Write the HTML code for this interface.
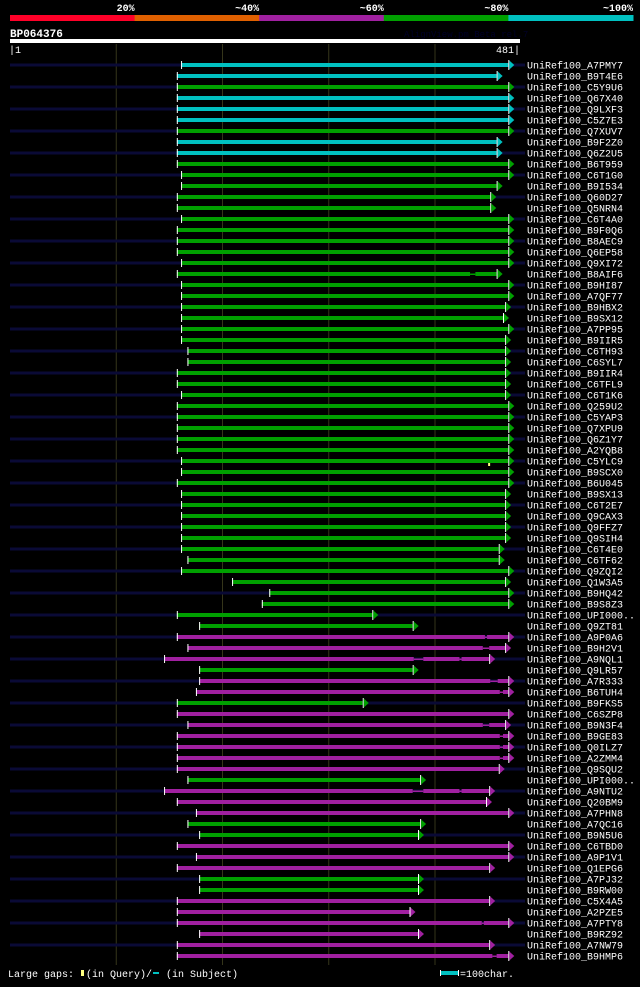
<!DOCTYPE html>
<html><head><meta charset="utf-8">
<style>
html,body{margin:0;padding:0;background:#000;}
body{width:640px;height:982px;overflow:hidden;}
svg text{font-family:"Liberation Mono",monospace;}
</style></head>
<body>
<svg id="chart" width="640" height="982" viewBox="0 0 640 982" xmlns="http://www.w3.org/2000/svg">
  <rect x="0" y="0" width="640" height="982" fill="#000"/>
  <g id="scale-bar"></g>
  <text x="10" y="37" fill="#fff" font-size="11" font-weight="bold">BP064376</text>
  <text x="404" y="37" fill="#000028" font-size="9">AlignView.pm Beta rel.7</text>
  <rect x="10" y="39" width="510" height="4" fill="#fff"/>
  <text x="9" y="53" fill="#fff" font-size="10">|1</text>
  <text x="520" y="53" fill="#fff" font-size="10" text-anchor="end">481|</text>
  <g id="grid"></g>
  <g id="rows"></g>
  <g>
    <text x="8" y="977" fill="#fff" font-size="10">Large gaps:</text>
    <rect x="81" y="970" width="3" height="6" fill="#ffff80"/>
    <text x="86" y="977" fill="#fff" font-size="10">(in Query)/</text>
    <rect x="153" y="972" width="6" height="2" fill="#00c0c0"/>
    <text x="166" y="977" fill="#fff" font-size="10">(in Subject)</text>
    <rect x="440" y="971" width="18" height="4" fill="#00c0c0"/>
    <rect x="440" y="970" width="1" height="6" fill="#fff"/>
    <rect x="458" y="970" width="1" height="6" fill="#fff"/>
    <text x="460" y="977" fill="#fff" font-size="10">=100char.</text>
  </g>
</svg>
<script>
const scaleLabels = ["20%","~40%","~60%","~80%","~100%"];
const scaleColors = ["#ff0028","#e06000","#a020a0","#00a000","#00c0c0"];
const queryLength = 481;
const gridTicks = [100,200,300,400];
const names = ["A7PMY7","B9T4E6","C5Y9U6","Q67X40","Q9LXF3","C5Z7E3","Q7XUV7","B9F2Z0","Q6Z2U5","B6T959","C6T1G0","B9I534","Q60D27","Q5NRN4","C6T4A0","B9F0Q6","B8AEC9","Q6EP58","Q9XI72","B8AIF6","B9HI87","A7QF77","B9HBX2","B9SX12","A7PP95","B9IIR5","C6TH93","C6SYL7","B9IIR4","C6TFL9","C6T1K6","Q259U2","C5YAP3","Q7XPU9","Q6Z1Y7","A2YQB8","C5YLC9","B9SCX0","B6U045","B9SX13","C6T2E7","Q9CAX3","Q9FFZ7","Q9SIH4","C6T4E0","C6TF62","Q9ZQI2","Q1W3A5","B9HQ42","B9S8Z3","UPI000..","Q9ZT81","A9P0A6","B9H2V1","A9NQL1","Q9LR57","A7R333","B6TUH4","B9FKS5","C6SZP8","B9N3F4","B9GE83","Q0ILZ7","A2ZMM4","Q9SQU2","UPI000..","A9NTU2","Q20BM9","A7PHN8","A7QC16","B9N5U6","C6TBD0","A9P1V1","Q1EPG6","A7PJ32","B9RW00","C5X4A5","A2PZE5","A7PTY8","B9RZ92","A7NW79","B9HMP6"];
const identityClass = ["c","c","g","c","c","c","g","c","c","g","g","g","g","g","g","g","g","g","g","g","g","g","g","g","g","g","g","g","g","g","g","g","g","g","g","g","g","g","g","g","g","g","g","g","g","g","g","g","g","g","g","g","m","m","m","g","m","m","g","m","m","m","m","m","m","g","m","m","m","g","g","m","m","m","g","g","m","m","m","m","m","m"];
const starts = [162,158,158,158,158,158,158,158,158,158,162,162,158,158,162,158,158,158,162,158,162,162,162,162,162,162,168,168,158,158,162,158,158,158,158,158,162,162,158,162,162,162,162,162,162,168,162,210,245,238,158,179,158,168,146,179,179,176,158,158,168,158,158,158,158,168,146,158,176,168,179,158,176,158,179,179,158,158,158,179,158,158];
const ends = [470,459,470,470,470,470,470,459,459,470,470,459,453,453,470,470,470,470,470,459,470,470,467,465,470,467,467,467,467,467,467,470,470,470,470,470,470,470,470,467,467,467,467,467,461,461,470,467,470,470,342,380,470,467,452,380,470,470,333,470,467,470,470,470,461,387,452,449,470,387,385,470,470,452,385,385,452,377,470,385,452,470];
const gapStarts = {19:[434],52:[448],53:[446],54:[381,424],56:[453],57:[462],60:[446],61:[462],62:[462],63:[462],66:[380,424],78:[445],81:[455]};
const gapEnds = {19:[439],52:[450],53:[452],54:[390,426],56:[460],57:[465],60:[452],61:[465],62:[465],63:[465],66:[390,426],78:[447],81:[459]};
const queryGapRows = [36];
const queryGapPos = [451];

const NS="http://www.w3.org/2000/svg";
const X0=10, X1=520;
function xScale(p){return X0+(p-1)*(X1-X0)/(queryLength-1);}
function yRow(i){return 65+i*11;}
const colorMap={c:"#00c0c0",g:"#00a000",m:"#a020a0"};
function mk(tag,attrs,parent){const e=document.createElementNS(NS,tag);for(const k in attrs)e.setAttribute(k,attrs[k]);parent.appendChild(e);return e;}

const sb=document.getElementById('scale-bar');
const segW=(633-10)/scaleLabels.length;
scaleLabels.forEach((l,i)=>{
  const r=mk('rect',{x:10+i*segW,y:15,width:segW+0.5,height:6,fill:scaleColors[i]},sb);
  
  
  const t=mk('text',{x:10+(i+1)*segW,y:11,fill:'#fff','font-size':10,'font-weight':'bold','text-anchor':'end'},sb);
  t.textContent=l;
  
  
});

const grid=document.getElementById('grid');
gridTicks.forEach(v=>{
  const g=mk('line',{x1:xScale(v+1),x2:xScale(v+1),y1:44,y2:965,stroke:'#35351a','stroke-width':1},grid);
  
  
});

const rows=document.getElementById('rows');
names.forEach((n,i)=>{
  const y=yRow(i);
  const g=mk('g',{},rows);
  
  
  if(i%2===0){mk('rect',{x:10,y:y-1.5,width:515,height:3,fill:'#0a0a36'},g);}
  const col=colorMap[identityClass[i]];
  const xs=xScale(starts[i]), xe=xScale(ends[i]);
  const gs=gapStarts[i]||[], ge=gapEnds[i]||[];
  let cur=xs;
  gs.forEach((s,k)=>{
    const a=xScale(s), b=xScale(ge[k]);
    mk('rect',{x:cur,y:y-2,width:a-cur,height:4,fill:col},g);
    mk('rect',{x:a,y:y-0.5,width:b-a,height:1.5,fill:col},g);
    cur=b;
  });
  const bar=mk('rect',{x:cur,y:y-2,width:xe-cur,height:4,fill:col},g);
  
  
  mk('rect',{x:xs,y:y-4,width:1,height:8,fill:'#fff'},g);
  mk('rect',{x:xe,y:y-5,width:1,height:10,fill:'#fff'},g);
  mk('polygon',{points:`${xe+1},${y-4.5} ${xe+6},${y} ${xe+1},${y+4.5}`,fill:col},g);
  const t=mk('text',{x:527,y:y+3.5,fill:'#fff','font-size':10},g);
  t.textContent='UniRef100_'+n;
  
  
});
queryGapRows.forEach((r,k)=>{
  const m=mk('rect',{x:xScale(queryGapPos[k]),y:yRow(r)+2,width:2,height:3,fill:'#ffff80'},rows);
  
  
});
</script>
</body></html>
